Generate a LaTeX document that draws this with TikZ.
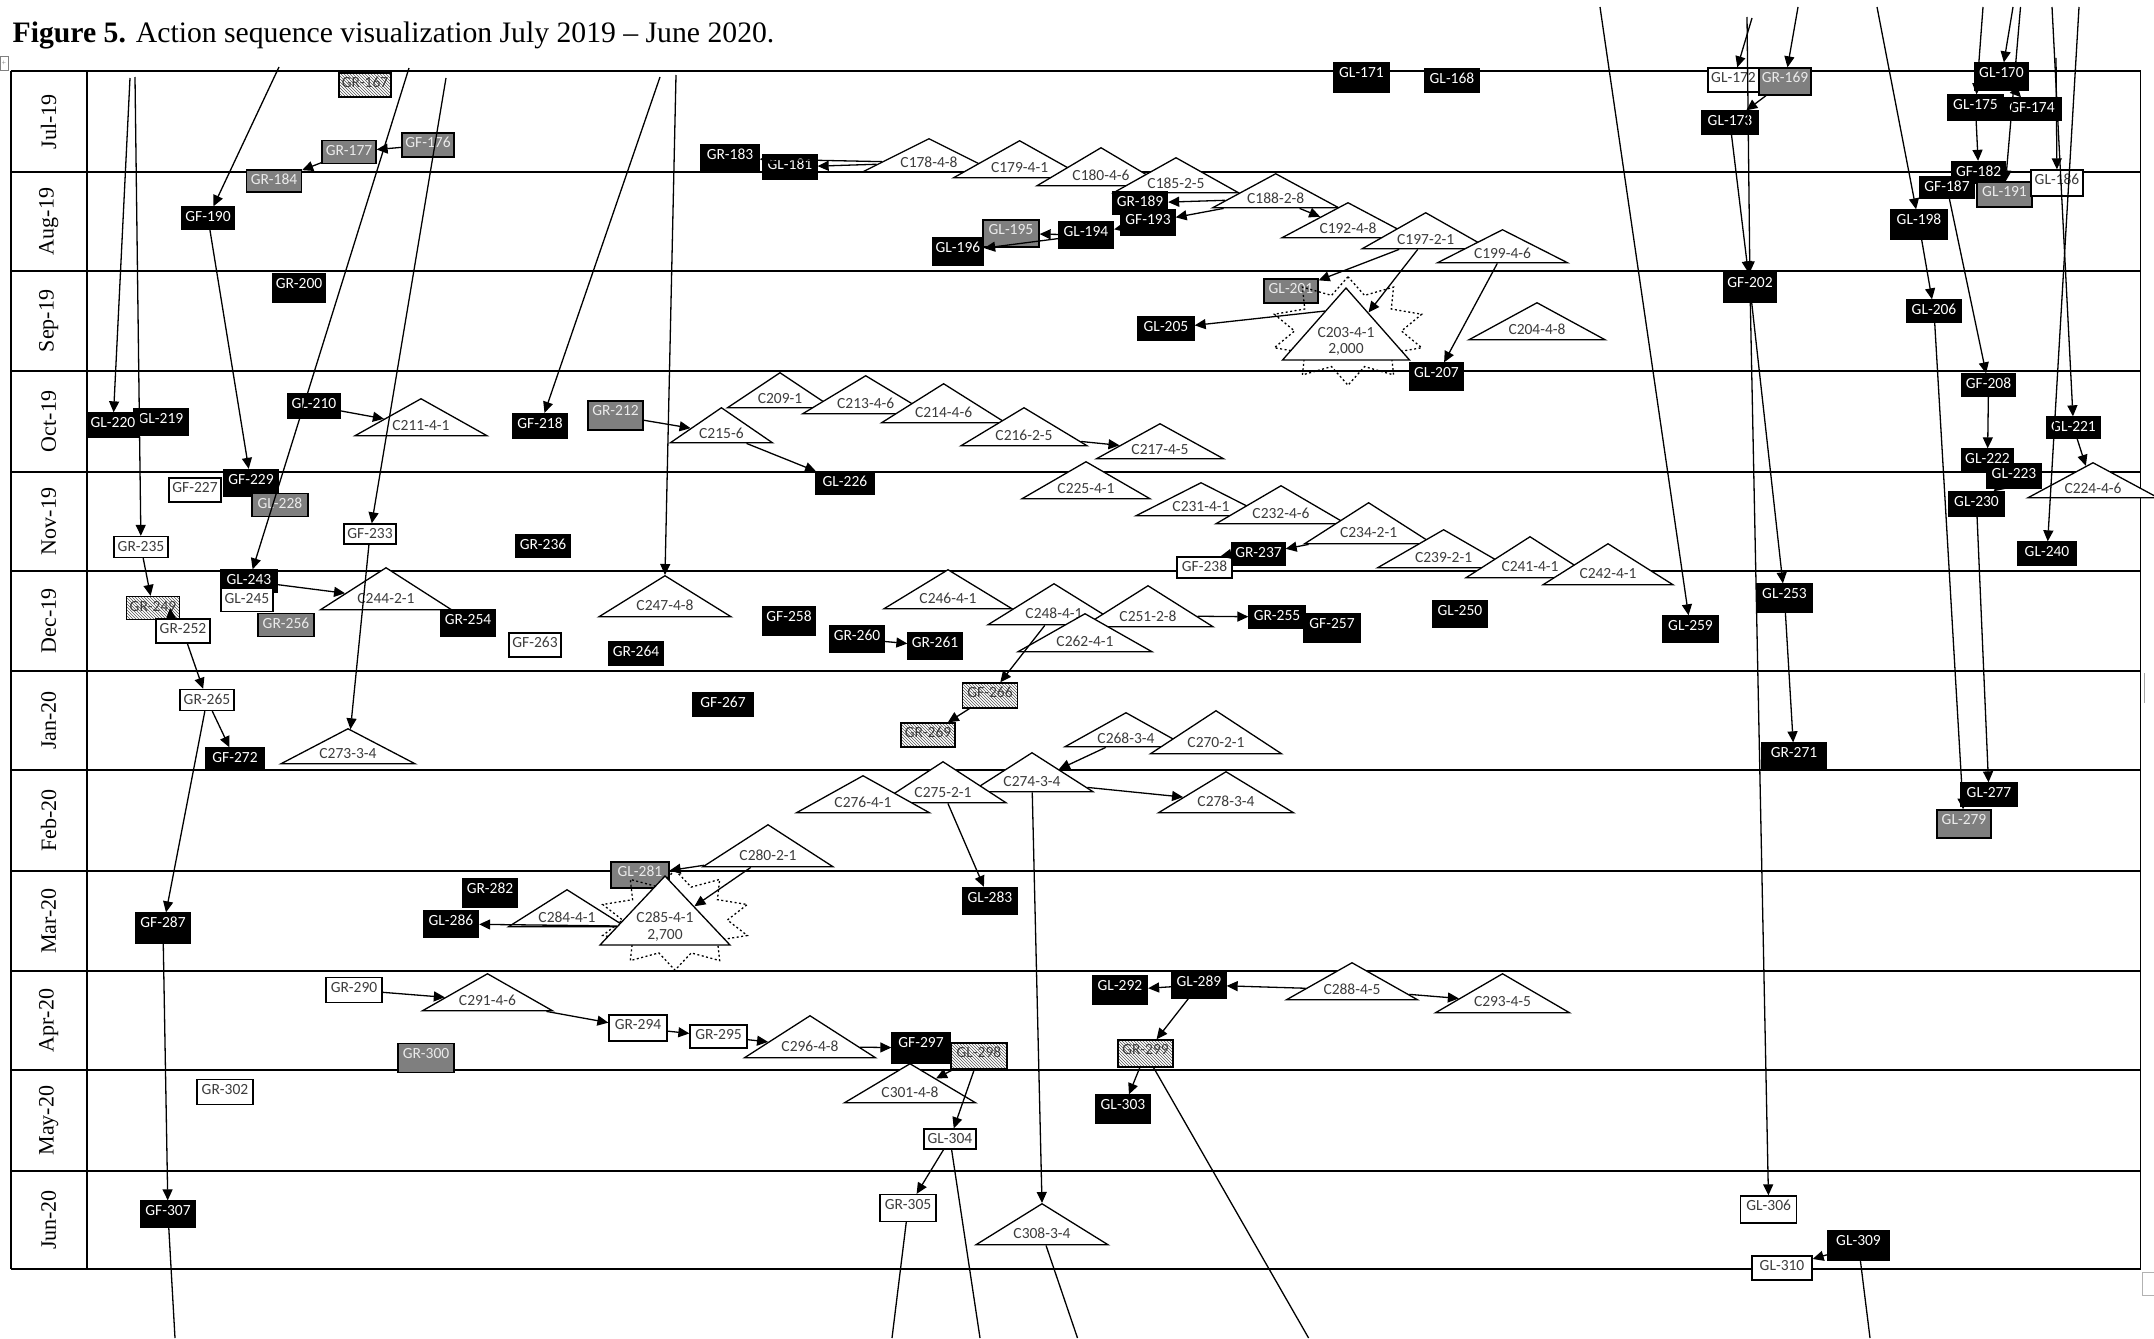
\documentclass[tikz,border=0pt]{standalone}
\usepackage{fontspec}
\setmainfont{Liberation Serif}
\newfontfamily\carl{Carlito}
\usetikzlibrary{shapes.geometric,arrows.meta,patterns}
\definecolor{boxgrey}{HTML}{7F7F7F}
\definecolor{txtdark}{HTML}{3C3C3C}
\definecolor{hatchgrey}{HTML}{555555}
\newcommand\bxfont{\carl\fontsize{15.5}{17}\selectfont}
\newcommand\trfont{\carl\fontsize{15.5}{16.5}\selectfont}
\tikzset{
  bx/.style 2 args={rectangle, line width=1.3pt, inner xsep=1pt, inner ysep=0pt,
     text height=14.5pt, minimum width=#1pt, text depth=#2pt, font=\bxfont},
  blk/.style={fill=black, draw=black, text=white},
  gry/.style={fill=boxgrey, draw=black, text=white!92!black},
  wht/.style={fill=white, draw=black, text=txtdark},
  hat/.style={preaction={fill=white}, pattern=north west lines, pattern color=hatchgrey, draw=black, text=txtdark},
  tri/.style 2 args={shape=isosceles triangle, shape border rotate=90,
     isosceles triangle apex angle=120, isosceles triangle stretches,
     minimum width=#1pt, minimum height=#2pt, inner sep=0pt, draw=black, fill=white,
     line width=1.3pt, font=\trfont, text=txtdark, anchor=apex},
  arr/.style={line width=1.3pt, -{Triangle[length=11pt,width=10pt]}},
  ln/.style={line width=1.3pt},
  burst/.style={star, star points=10, star point ratio=1.45, draw=black, line width=1.3pt,
     dash pattern=on 2pt off 2.5pt, transform shape, inner sep=0pt},
  month/.style={rotate=90, font=\fontsize{22}{24}\selectfont},
  gridline/.style={line width=1.6pt},
}
\begin{document}
\begin{tikzpicture}[x=1pt, y=-1pt]
\useasboundingbox (0,0) rectangle (2154,1338);
% title
\node[anchor=base west, inner sep=0pt, font=\fontsize{29.7}{32}\selectfont] (title) at (12.5,43)
  {\textbf{Figure 5.} Action sequence visualization July 2019 -- June 2020.};
\node[draw=gray, line width=0.6pt, minimum width=8pt, minimum height=14pt, inner sep=0pt, font=\fontsize{8}{8}\selectfont, text=gray] (handle) at (4,63) {+};
\node[draw=gray!60, line width=1pt, minimum width=14pt, minimum height=23pt, inner sep=0pt, anchor=north west] (corner) at (2142,1272) {};
\draw[line width=1pt, gray!70] (2144,673) -- (2144,703);
% table
\foreach \yy in {71,172,271,371,472,571,671,770,871,971,1070,1171,1269}
  {\draw[gridline] (10.7,\yy) -- (2140.6,\yy);}
\foreach \xx in {10.7,86.8,2140.6}
  {\draw[gridline] (\xx,71) -- (\xx,1269);}
\node[month] (m1) at (48.7,121.5) {Jul-19};
\node[month] (m2) at (48.7,221.5) {Aug-19};
\node[month] (m3) at (48.7,321) {Sep-19};
\node[month] (m4) at (48.7,421.5) {Oct-19};
\node[month] (m5) at (48.7,521.5) {Nov-19};
\node[month] (m6) at (48.7,621) {Dec-19};
\node[month] (m7) at (48.7,720.5) {Jan-20};
\node[month] (m8) at (48.7,820.5) {Feb-20};
\node[month] (m9) at (48.7,921) {Mar-20};
\node[month] (m10) at (48.7,1020.5) {Apr-20};
\node[month] (m11) at (48.7,1120.5) {May-20};
\node[month] (m12) at (48.7,1220) {Jun-20};
% boxes lying under bursts
\node[bx={54}{9.5},gry] (gl201) at (1291,291) {GL-201};
\node[bx={58}{11.5},gry] (gl281) at (640,875) {GL-281};
% bursts
\begin{scope}[shift={(1348,331)}, yscale=0.7]
  \node[burst, minimum size=155pt] (st203) at (0,0) {};
\end{scope}
\begin{scope}[shift={(675,920)}, yscale=0.66]
  \node[burst, minimum size=152pt] (st285) at (0,0) {};
\end{scope}
% triangles
\node[tri={132}{33}] (c178) at (929,138) {C178-4-8};
\node[tri={132}{37}] (c179) at (1019.6,140) {C179-4-1};
\node[tri={128}{38}] (c180) at (1101,147) {C180-4-6};
\node[tri={125}{35}] (c185) at (1176,157) {C185-2-5};
\node[tri={126}{34}] (c188) at (1275.7,173) {C188-2-8};
\node[tri={132}{35}] (c192) at (1348,202) {C192-4-8};
\node[tri={127}{36}] (c197) at (1425.7,212) {C197-2-1};
\node[tri={130}{33}] (c199) at (1502.5,229) {C199-4-6};
\node[tri={127}{72}, isosceles triangle apex angle=80, align=center] (c203) at (1346,287) {C203-4-1\\2,000};
\node[tri={136}{37}] (c204) at (1537,302) {C204-4-8};
\node[tri={105}{35}] (c209) at (780,372) {C209-1};
\node[tri={132}{37}] (c211) at (421,398) {C211-4-1};
\node[tri={126}{38}] (c213) at (865.7,375) {C213-4-6};
\node[tri={124}{39}] (c214) at (943.6,383) {C214-4-6};
\node[tri={102}{35}] (c215) at (721.4,407) {C215-6};
\node[tri={126}{38}] (c216) at (1024,407) {C216-2-5};
\node[tri={127}{35}] (c217) at (1160,423) {C217-4-5};
\node[tri={130}{35}] (c224) at (2093,462) {C224-4-6};
\node[tri={128}{37}] (c225) at (1086,461) {C225-4-1};
\node[tri={130}{33}] (c231) at (1201,482) {C231-4-1};
\node[tri={130}{38}] (c232) at (1281,485) {C232-4-6};
\node[tri={128}{41}] (c234) at (1368.6,502) {C234-2-1};
\node[tri={132}{38}] (c239) at (1443.6,529) {C239-2-1};
\node[tri={128}{41}] (c241) at (1530,536) {C241-4-1};
\node[tri={130}{41}] (c242) at (1608,543) {C242-4-1};
\node[tri={131}{42}] (c244) at (386,567) {C244-2-1};
\node[tri={128}{39}] (c246) at (948,569) {C246-4-1};
\node[tri={132}{41}] (c247) at (665,575) {C247-4-8};
\node[tri={132}{41}] (c248) at (1054,583) {C248-4-1};
\node[tri={130}{41}] (c251) at (1148,585) {C251-2-8};
\node[tri={134}{38}] (c262) at (1085,613) {C262-4-1};
\node[tri={122}{34}] (c268) at (1126,712) {C268-3-4};
\node[tri={131}{43}] (c270) at (1216,710) {C270-2-1};
\node[tri={134}{35}] (c273) at (348,728) {C273-3-4};
\node[tri={122}{39}] (c274) at (1032,752) {C274-3-4};
\node[tri={126}{41}] (c275) at (943,761) {C275-2-1};
\node[tri={133}{37}] (c276) at (863,775) {C276-4-1};
\node[tri={135}{41}] (c278) at (1226,771) {C278-3-4};
\node[tri={130}{42}] (c280) at (768,824) {C280-2-1};
\node[tri={117}{37}] (c284) at (567,889) {C284-4-1};
\node[tri={130}{69}, isosceles triangle apex angle=80, align=center] (c285) at (665,875) {C285-4-1\\2,700};
\node[tri={131}{37}] (c288) at (1352,962) {C288-4-5};
\node[tri={130}{37}] (c291) at (487.5,973) {C291-4-6};
\node[tri={134}{39}] (c293) at (1502.5,973) {C293-4-5};
\node[tri={131}{42}] (c296) at (810,1015) {C296-4-8};
\node[tri={131}{39}] (c301) at (910,1063) {C301-4-8};
\node[tri={132}{41}] (c308) at (1042,1203) {C308-3-4};
% boxes
\node[bx={52}{9.5},hat] (gr167) at (365,85) {GR-167};
\node[bx={55}{14.5},blk] (gl171) at (1361.5,77.5) {GL-171};
\node[bx={55}{8.5},blk] (gl168) at (1452,80.5) {GL-168};
\node[bx={51}{9.5},wht] (gl172) at (1733.5,80) {GL-172};
\node[bx={52}{12.5},gry] (gr169) at (1785,81.5) {GR-169};
\node[bx={56}{8.5},blk] (gl173) at (1730,122.5) {GL-173};
\node[bx={53}{12.5},blk] (gl170) at (2001.5,76.5) {GL-170};
\node[bx={55}{10.5},blk] (gl175) at (1975.5,107.5) {GL-175};
\node[bx={58}{7.5},blk] (gf174) at (2032,109) {GF-174};
\node[bx={54}{8.5},gry] (gr177) at (349,152) {GR-177};
\node[bx={52}{9.5},gry] (gf176) at (428,145) {GF-176};
\node[bx={55}{7.5},gry] (gr184) at (274,181) {GR-184};
\node[bx={58}{12.5},blk] (gr183) at (730,158.5) {GR-183};
\node[bx={54}{9.5},blk] (gl181) at (790,167) {GL-181};
\node[bx={53}{7.5},blk] (gf190) at (208,218) {GF-190};
\node[bx={55}{7.5},blk] (gr189) at (1140,203) {GR-189};
\node[bx={54}{10.5},blk] (gf193) at (1148,222.5) {GF-193};
\node[bx={55}{11.5},blk] (gl194) at (1086,235) {GL-194};
\node[bx={56}{12.5},gry] (gl195) at (1011,233.5) {GL-195};
\node[bx={51}{12.5},blk] (gl196) at (958,251.5) {GL-196};
\node[bx={54}{7.5},blk] (gf182) at (1978.6,172.5) {GF-182};
\node[bx={55}{7.5},blk] (gf187) at (1947,187.5) {GF-187};
\node[bx={55}{10.5},gry] (gl191) at (2004.5,194.5) {GL-191};
\node[bx={52}{11.5},wht] (gl186) at (2057,183) {GL-186};
\node[bx={56}{14.5},blk] (gl198) at (1919,224.5) {GL-198};
\node[bx={52}{13.5},blk] (gr200) at (299,288) {GR-200};
\node[bx={56}{8.5},blk] (gl205) at (1166,328.5) {GL-205};
\node[bx={53}{14.5},blk] (gf202) at (1750,287.5) {GF-202};
\node[bx={55}{7.5},blk] (gl206) at (1934,311) {GL-206};
\node[bx={53}{12.5},blk] (gl207) at (1436.5,376.5) {GL-207};
\node[bx={53}{7.5},blk] (gf208) at (1988.5,385) {GF-208};
\node[bx={52}{9.5},blk] (gl210) at (314,406) {GL-210};
\node[bx={55}{10.5},blk] (gf218) at (540,426) {GF-218};
\node[bx={54}{11.5},blk] (gl219) at (161,422) {GL-219};
\node[bx={52}{9.5},blk] (gl220) at (113,425) {GL-220};
\node[bx={55}{14.5},gry] (gr212) at (615.5,415.5) {GR-212};
\node[bx={53}{6.5},blk] (gl221) at (2073.5,427.5) {GL-221};
\node[bx={58}{7.5},blk] (gl226) at (845,483) {GL-226};
\node[bx={51}{8.5},blk] (gl222) at (1987.5,460.5) {GL-222};
\node[bx={54}{9.5},blk] (gl223) at (2014,476) {GL-223};
\node[bx={55}{9.5},blk] (gl230) at (1976.5,504) {GL-230};
\node[bx={54}{12.5},blk] (gf229) at (251,483) {GF-229};
\node[bx={52}{9.5},wht] (gf227) at (195,490) {GF-227};
\node[bx={56}{8.5},gry] (gl228) at (280,505) {GL-228};
\node[bx={54}{6.5},wht] (gr235) at (141,547) {GR-235};
\node[bx={52}{5.5},wht] (gf233) at (370,534) {GF-233};
\node[bx={55}{7.5},blk] (gr236) at (543,546) {GR-236};
\node[bx={53}{7.5},blk] (gr237) at (1258.5,554) {GR-237};
\node[bx={55}{6.5},wht] (gf238) at (1204.5,567.5) {GF-238};
\node[bx={58}{8.5},blk] (gl240) at (2047,553.5) {GL-240};
\node[bx={56}{7.5},blk] (gl243) at (249,581) {GL-243};
\node[bx={52}{8.5},wht] (gl245) at (247,600) {GL-245};
\node[bx={53}{8.5},hat] (gr249) at (153,608) {GR-249};
\node[bx={54}{9.5},wht] (gr252) at (183,631) {GR-252};
\node[bx={54}{12.5},blk] (gr254) at (468,623) {GR-254};
\node[bx={56}{8.5},gry] (gr256) at (286,625) {GR-256};
\node[bx={52}{9.5},wht] (gf263) at (535,645) {GF-263};
\node[bx={54}{8.5},blk] (gr264) at (636,653.5) {GR-264};
\node[bx={52}{13.5},blk] (gf258) at (789,621) {GF-258};
\node[bx={55}{11.5},blk] (gr260) at (857,639) {GR-260};
\node[bx={54}{11.5},blk] (gr261) at (935,646) {GR-261};
\node[bx={56}{7.5},blk] (gr255) at (1277,617) {GR-255};
\node[bx={56}{13.5},blk] (gf257) at (1332,628) {GF-257};
\node[bx={55}{11.5},blk] (gl250) at (1460,614) {GL-250};
\node[bx={55}{11.5},blk] (gl259) at (1690.5,629) {GL-259};
\node[bx={55}{13.5},blk] (gl253) at (1784.5,598) {GL-253};
\node[bx={55}{10.5},hat] (gf266) at (990,695.5) {GF-266};
\node[bx={54}{9.5},hat] (gr269) at (928,735) {GR-269};
\node[bx={60}{8.5},blk] (gf267) at (723,704.5) {GF-267};
\node[bx={54}{6.5},wht] (gr265) at (207,700) {GR-265};
\node[bx={58}{7.5},blk] (gf272) at (235,759) {GF-272};
\node[bx={65}{12.5},blk] (gr271) at (1794,756.5) {GR-271};
\node[bx={56}{8.5},blk] (gl277) at (1989,794.5) {GL-277};
\node[bx={54}{13.5},gry] (gl279) at (1964,824) {GL-279};
\node[bx={54}{13.5},blk] (gr282) at (490,893) {GR-282};
\node[bx={55}{11.5},blk] (gl286) at (451,924) {GL-286};
\node[bx={54}{15.5},blk] (gf287) at (163,928) {GF-287};
\node[bx={55}{12.5},blk] (gl283) at (990,901) {GL-283};
\node[bx={56}{10.5},wht] (gr290) at (354,990) {GR-290};
\node[bx={55}{13.5},blk] (gl292) at (1120,990) {GL-292};
\node[bx={54}{11.5},blk] (gl289) at (1199,985) {GL-289};
\node[bx={58}{11.5},wht] (gr294) at (638,1028) {GR-294};
\node[bx={57}{8.5},wht] (gr295) at (718.5,1036.5) {GR-295};
\node[bx={58}{15.5},blk] (gf297) at (921,1048) {GF-297};
\node[bx={56}{11.5},hat] (gl298) at (979,1056) {GL-298};
\node[bx={55}{12.5},hat] (gr299) at (1145.5,1053.5) {GR-299};
\node[bx={56}{14.5},gry] (gr300) at (426,1058) {GR-300};
\node[bx={56}{10.5},wht] (gr302) at (225,1092) {GR-302};
\node[bx={55}{13.5},blk] (gl303) at (1123,1109) {GL-303};
\node[bx={52}{5.5},wht] (gl304) at (950,1139) {GL-304};
\node[bx={56}{12.5},wht] (gr305) at (908,1208) {GR-305};
\node[bx={56}{12.5},wht] (gl306) at (1768.7,1209.5) {GL-306};
\node[bx={55}{11.5},blk] (gf307) at (168,1214) {GF-307};
\node[bx={62}{14.5},blk] (gl309) at (1858.5,1245.5) {GL-309};
\node[bx={60}{9.5},wht] (gl310) at (1782,1268) {GL-310};
% free ends
\coordinate (t1) at (130,78);
\coordinate (t2) at (135,77);
\coordinate (t3) at (279,67);
\coordinate (t4) at (409,68);
\coordinate (t5) at (446,78);
\coordinate (t6) at (660,77);
\coordinate (t7) at (676,75);
\coordinate (t8) at (1600,7);
\coordinate (t9) at (1752,18);
\coordinate (t10) at (1747,17);
\coordinate (t11) at (1798,7);
\coordinate (t12) at (1877,7);
\coordinate (t13) at (1983,7);
\coordinate (t14) at (2013,7);
\coordinate (t15) at (2020.5,7);
\coordinate (t16) at (2052,7);
\coordinate (t17) at (2056,58);
\coordinate (t18) at (2079,7);
\coordinate (b1) at (175,1338);
\coordinate (b2) at (892,1338);
\coordinate (b3) at (980,1338);
\coordinate (b4) at (1077.5,1338);
\coordinate (b5) at (1308.6,1338);
\coordinate (b6) at (1870,1338);
% connectors from above
\draw[arr] (t1) -- (gl220);
\draw[arr] (t2) -- (gr235);
\draw[arr] (t3) -- (gf190);
\draw[arr] (t4) -- (gl243);
\draw[arr] (t5) -- (gf233);
\draw[arr] (t6) -- (gf218);
\draw[arr] (t7) -- (c247.apex);
\draw[arr] (t8) -- (gl259);
\draw[arr] (t9) -- (gl172);
\draw[arr] (t10) -- (gf202);
\draw[arr] (t11) -- (gr169);
\draw[arr] (t12) -- (gl198);
\draw[arr] (t13) -- (gl175);
\draw[arr] (t14) -- (gl170);
\draw[arr] (t15) -- (gl191);
\draw[arr] (t16) -- (gl221);
\draw[arr] (t17) -- (gl186);
\draw[arr] (t18) -- (gl240);
% connectors
\draw[arr] (gf176) -- (gr177);
\draw[arr] (gr177) -- (gr184);
\draw[arr] (gf190) -- (gf229);
\draw[arr] (gl210) -- (c211);
\draw[arr] (gr212) -- (c215);
\draw[arr] (c215) -- (gl226);
\draw[arr] (c216) -- (c217);
\draw[arr] (c178) -- (gr183);
\draw[arr] (c178) -- (gl181);
\draw[arr] (gl194) -- (gl195);
\draw[arr] (gl194) -- (gl196);
\draw[arr] (gf193) -- (gl194);
\draw[arr] (c188) -- (gr189);
\draw[arr] (c188) -- (gf193);
\draw[arr] (c188) -- (c192);
\draw[arr] (c197) -- (gl201);
\draw[arr] (c197) -- (c203);
\draw[arr] (c203.125) -- (gl205);
\draw[arr] (c199) -- (gl207);
\draw[arr] (gr169) -- (gl173);
\draw[arr] (gl173) -- (gf202);
\draw[arr] (gf202) -- (gl253);
\draw[arr] (gf202) -- (gl306);
\draw[arr] (gl170) -- (gf174);
\draw[arr] (gl175) -- (gf182);
\draw[arr] (gl198) -- (gl206);
\draw[arr] (gf187) -- (gf208);
\draw[arr] (gf208) -- (gl222);
\draw[arr] (gl221) -- (c224);
\draw[arr] (gl223) -- (gl230);
\draw[arr] (gl230) -- (gl277);
\draw[arr] (gl206) -- (gl279);
\draw[arr] (gl253) -- (gr271);
\draw[arr] (gr235) -- (gr249);
\draw[arr] ([xshift=-12pt]gr252.north) -- ([xshift=17pt]gr249.center);
\draw[arr] (gr252) -- (gr265);
\draw[arr] (gr265) -- (gf272);
\draw[arr] (gr265) -- (gf287);
\draw[arr] (gl243) -- (c244);
\draw[arr] (gf233) -- (c273);
\draw[arr] (c234) -- (gr237);
\draw[arr] (gr237.west) -- ([xshift=16pt]gf238.north);
\draw[arr] (c251) -- (gr255);
\draw[arr] (gr260) -- (gr261);
\draw[arr] (c248) -- (gf266);
\draw[arr] (gf266) -- (gr269);
\draw[arr] (c268) -- (c274);
\draw[arr] (c274) -- (c278);
\draw[arr] (c274) -- (c308.apex);
\draw[arr] (c275) -- (gl283);
\draw[arr] (c280) -- (gl281);
\draw[arr] (c280) -- (c285);
\draw[arr] (c285) -- (gl286);
\draw[arr] (gf287) -- (gf307);
\draw[arr] (gr290) -- (c291);
\draw[arr] (c291) -- (gr294);
\draw[arr] (gr294) -- (gr295);
\draw[arr] (gr295) -- (c296);
\draw[arr] (c296) -- (gf297);
\draw[arr] (gl298) -- (c301);
\draw[arr] (gl298) -- (gl304);
\draw[arr] (gl304) -- (gr305);
\draw[arr] (c288) -- (gl289);
\draw[arr] (c288) -- (c293);
\draw[arr] (gl289) -- (gl292);
\draw[arr] (gl289) -- (gr299);
\draw[arr] (gr299) -- (gl303);
\draw[arr] (gl309) -- (gl310);
% lines leaving the picture
\draw[ln] (gf307) -- (b1);
\draw[ln] (gr305) -- (b2);
\draw[ln] (gl304) -- (b3);
\draw[ln] (c308) -- (b4);
\draw[ln] (gr299) -- (b5);
\draw[ln] (gl309) -- (b6);
\end{tikzpicture}
\end{document}
